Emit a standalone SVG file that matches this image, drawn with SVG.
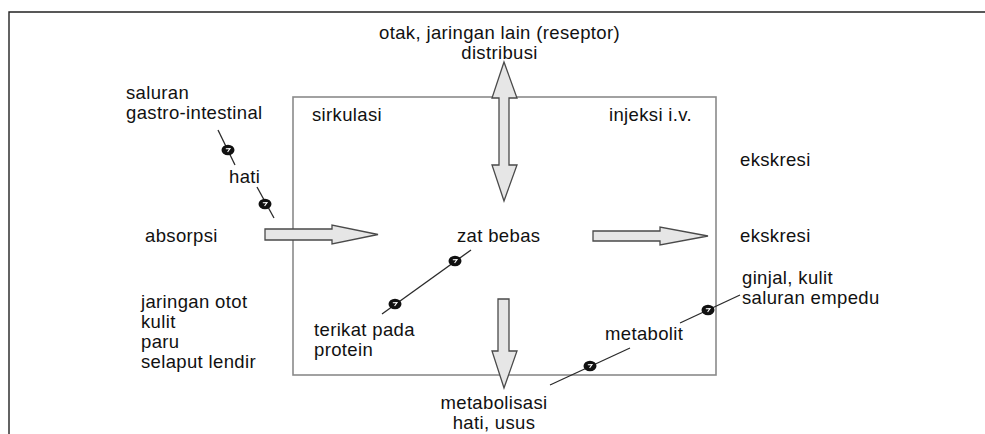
<svg xmlns="http://www.w3.org/2000/svg" xmlns:xlink="http://www.w3.org/1999/xlink" width="985" height="434" viewBox="0 0 985 434">
  <style>
    .t { font-family: "Liberation Sans", Arial, sans-serif; font-size: 18.5px; letter-spacing: 0.35px; fill: #111; }
    .c { text-anchor: middle; }
    .frame { fill: none; stroke: #222; stroke-width: 1.4; }
    .box { fill: none; stroke: #8a8a8a; stroke-width: 1.6; }
    .bigarrow { fill: #e6e6e6; stroke: #4a4a4a; stroke-width: 1.3; stroke-linejoin: miter; }
    .link { stroke: #2a2a2a; stroke-width: 1.3; fill: none; }
  </style>
  <defs>
    <g id="bead">
      <ellipse rx="6.5" ry="5.3" fill="#111"/>
      <path d="M-2.2,-1.2 L2,-1.4 L-0.4,2" fill="none" stroke="#fff" stroke-width="1.1"/>
    </g>
  </defs>

  <rect width="985" height="434" fill="#fff"/>

  <!-- page frame (open to the right and bottom) -->
  <path class="frame" d="M9,434 V12 H985"/>

  <!-- circulation compartment -->
  <g id="sirkulasi-box">
    <rect class="box" x="293" y="97" width="423" height="278"/>
    <text class="t" x="312" y="121">sirkulasi</text>
  </g>

  <g id="connectors">
    <!-- absorption arrow -->
    <path class="bigarrow" d="M265,229 H332 V225 L378,234.5 L332,244 V240 H265 Z"/>
    <!-- excretion arrow -->
    <path class="bigarrow" d="M593,231 H660 V227 L708,236 L660,245 V241 H593 Z"/>
    <!-- distribution double arrow -->
    <path class="bigarrow" d="M504,62 L517,98 H509 V165 H517 L504,201 L492,165 H499 V98 H492 Z"/>
    <!-- metabolism arrow -->
    <path class="bigarrow" d="M498,299 H509 V351 H517 L504,388 L492,351 H498 Z"/>

    <!-- beaded links -->
    <line class="link" x1="218" y1="130" x2="235" y2="165"/>
    <use xlink:href="#bead" transform="translate(228,150)"/>
    <line class="link" x1="257" y1="187" x2="274" y2="218"/>
    <use xlink:href="#bead" transform="translate(265,204)"/>
    <line class="link" x1="471" y1="250" x2="382" y2="314"/>
    <use xlink:href="#bead" transform="translate(455,261)"/>
    <use xlink:href="#bead" transform="translate(395,304)"/>
    <line class="link" x1="550" y1="385" x2="630" y2="348"/>
    <use xlink:href="#bead" transform="translate(590,366)"/>
    <line class="link" x1="680" y1="323" x2="740" y2="295"/>
    <use xlink:href="#bead" transform="translate(708,310)"/>
  </g>

  <g id="reseptor">
    <text class="t c" x="499.5" y="39">otak, jaringan lain (reseptor)</text>
    <text class="t c" x="499.5" y="59">distribusi</text>
  </g>

  <g id="saluran-gi">
    <text class="t" x="126" y="99">saluran</text>
    <text class="t" x="126" y="119">gastro-intestinal</text>
  </g>

  <g id="hati">
    <text class="t" x="229" y="183">hati</text>
  </g>

  <g id="injeksi">
    <text class="t" x="609" y="121">injeksi i.v.</text>
  </g>

  <g id="ekskresi-atas">
    <text class="t" x="740" y="166">ekskresi</text>
  </g>

  <g id="absorpsi">
    <text class="t" x="145" y="242">absorpsi</text>
  </g>

  <g id="zat-bebas">
    <text class="t" x="457" y="242">zat bebas</text>
  </g>

  <g id="ekskresi">
    <text class="t" x="740" y="242">ekskresi</text>
  </g>

  <g id="ginjal">
    <text class="t" x="742" y="284">ginjal, kulit</text>
    <text class="t" x="742" y="304">saluran empedu</text>
  </g>

  <g id="jaringan">
    <text class="t" x="141" y="308">jaringan otot</text>
    <text class="t" x="141" y="328">kulit</text>
    <text class="t" x="141" y="348">paru</text>
    <text class="t" x="141" y="368">selaput lendir</text>
  </g>

  <g id="terikat">
    <text class="t" x="314" y="336">terikat pada</text>
    <text class="t" x="314" y="356">protein</text>
  </g>

  <g id="metabolit">
    <text class="t" x="605" y="340">metabolit</text>
  </g>

  <g id="metabolisasi">
    <text class="t c" x="494" y="409">metabolisasi</text>
    <text class="t c" x="494" y="429">hati, usus</text>
  </g>
</svg>
